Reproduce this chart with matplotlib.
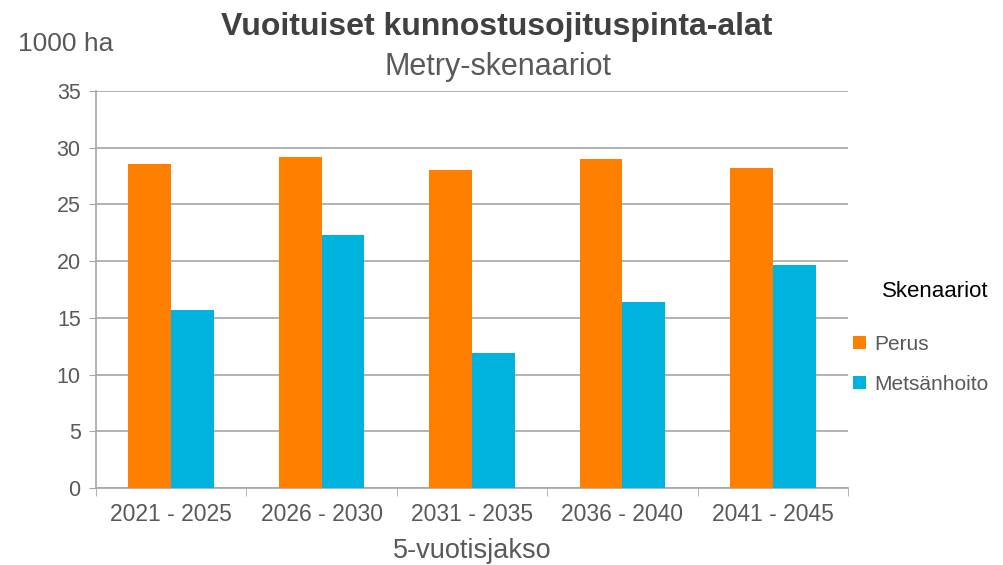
import matplotlib.pyplot as plt
import numpy as np

plt.rcParams['font.family'] = ['Liberation Sans', 'DejaVu Sans']

periods = ["2021 - 2025", "2026 - 2030", "2031 - 2035", "2036 - 2040", "2041 - 2045"]
perus = [28.6, 29.2, 28.0, 29.0, 28.2]
metsanhoito = [15.7, 22.3, 11.9, 16.4, 19.7]
y_ticks = [0, 5, 10, 15, 20, 25, 30, 35]

ORANGE = "#FF8000"
TEAL = "#00B2DE"
GREY_TEXT = "#595959"
GRID = "#A6A6A6"

fig = plt.figure(figsize=(10.04, 5.65), dpi=100)
ax = fig.add_axes([0.0956, 0.1363, 0.7490, 0.7027])

x = np.arange(len(periods))
w = 0.285
b1 = ax.bar(x - w / 2, perus, width=w, color=ORANGE, label="Perus", zorder=3)
b2 = ax.bar(x + w / 2, metsanhoito, width=w, color=TEAL, label="Metsänhoito", zorder=3)

ax.set_xlim(-0.5, len(periods) - 0.5)
ax.set_ylim(0, 35)
ax.set_yticks(y_ticks)
ax.yaxis.grid(True, color=GRID, linewidth=1.2, zorder=0)
ax.tick_params(axis='y', length=5, color=GRID, labelsize=15.5, labelcolor=GREY_TEXT, pad=6)

ax.set_xticks(x)
ax.set_xticklabels(periods)
ax.set_xticks(np.arange(len(periods) + 1) - 0.5, minor=True)
ax.tick_params(axis='x', which='major', length=0, labelsize=16.5, labelcolor=GREY_TEXT, pad=11)
ax.tick_params(axis='x', which='minor', length=6, color=GRID)

for side in ["top", "right"]:
    ax.spines[side].set_visible(False)
ax.spines["left"].set_color(GRID)
ax.spines["bottom"].set_color(GRID)
ax.spines["left"].set_linewidth(1.2)
ax.spines["bottom"].set_linewidth(1.2)

fig.text(0.470, 0.025, "5-vuotisjakso", ha="center", va="center", fontsize=19.5, color=GREY_TEXT)

fig.text(0.495, 0.953, "Vuoituiset kunnostusojituspinta-alat", ha="center", va="center",
         fontsize=23, fontweight="bold", color="#404040")
fig.text(0.496, 0.882, "Metry-skenaariot", ha="center", va="center",
         fontsize=22, color=GREY_TEXT)
fig.text(0.018, 0.922, "1000 ha", ha="left", va="center", fontsize=19, color=GREY_TEXT)

leg = ax.legend(handles=[b1, b2], title="Skenaariot", loc="center left",
                bbox_to_anchor=(0.982, 0.38), frameon=False, fontsize=15,
                title_fontsize=16, handlelength=0.6, handleheight=0.6,
                handletextpad=0.4, labelspacing=1.0, alignment="right")
for t in leg.get_texts():
    t.set_color(GREY_TEXT)
leg.get_title().set_color("black")
leg._legend_box.sep = 24

fig.savefig("out.png", dpi=100)
